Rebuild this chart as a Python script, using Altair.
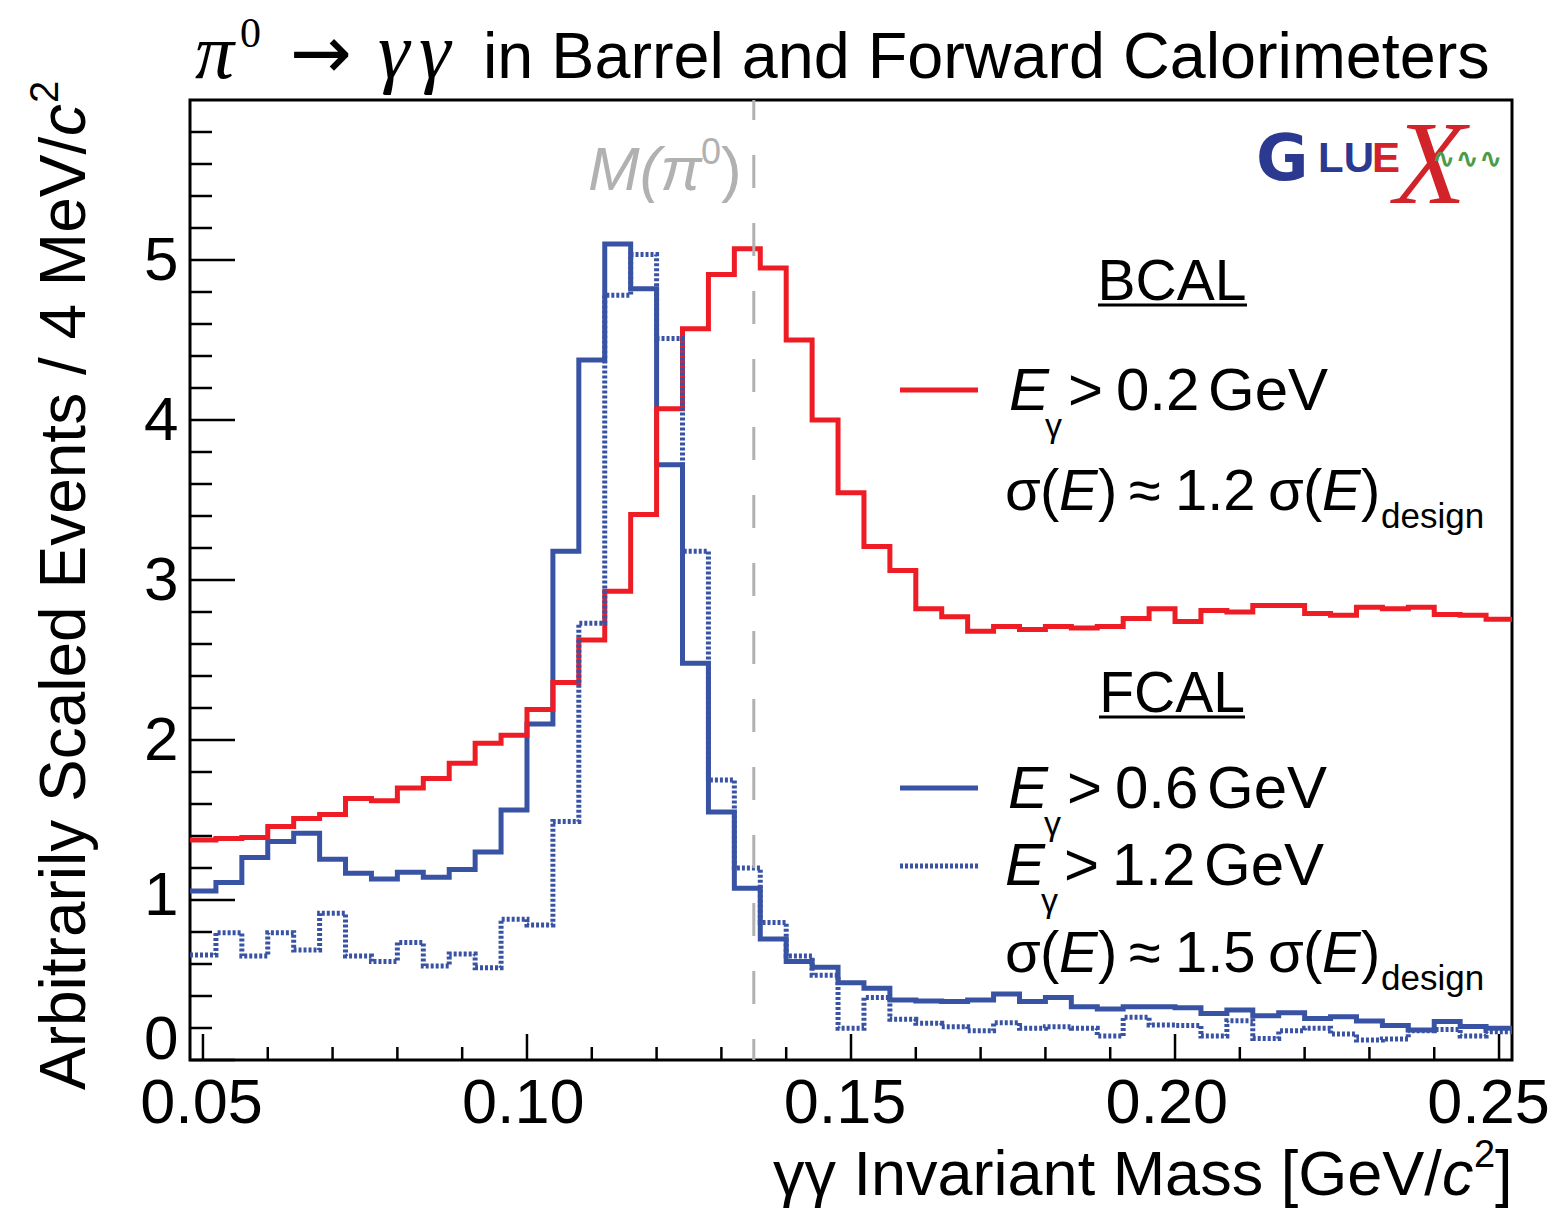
import altair as alt
import pandas as pd

# ---------------- data ----------------
BIN_LOW = 0.048      # GeV/c^2, first bin's lower edge
BIN_WIDTH = 0.004    # 4 MeV bins
X_MAX = 0.252

BCAL_02 = [1.375, 1.385, 1.39, 1.46, 1.51, 1.535, 1.635, 1.62, 1.70, 1.76,
           1.855, 1.98, 2.03, 2.19, 2.36, 2.625, 2.93, 3.41, 4.07, 4.57,
           4.91, 5.07, 4.95, 4.50, 4.00, 3.545, 3.21, 3.06, 2.82, 2.77,
           2.68, 2.71, 2.69, 2.71, 2.70, 2.71, 2.76, 2.82, 2.74, 2.81,
           2.80, 2.84, 2.84, 2.79, 2.78, 2.83, 2.82, 2.83, 2.785, 2.78, 2.755]

FCAL_06 = [1.056, 1.11, 1.265, 1.365, 1.417, 1.254, 1.167, 1.131, 1.173, 1.142,
           1.19, 1.30, 1.5625, 2.10, 3.18, 4.375, 5.10, 4.82, 3.72, 2.48,
           1.55, 1.073, 0.756, 0.615, 0.58, 0.483, 0.448, 0.375, 0.369, 0.365,
           0.375, 0.4125, 0.365, 0.39, 0.333, 0.319, 0.333, 0.333, 0.327, 0.29,
           0.3125, 0.277, 0.296, 0.26, 0.27, 0.244, 0.215, 0.1875, 0.24, 0.21, 0.198]

FCAL_12 = [0.656, 0.796, 0.65, 0.796, 0.6875, 0.917, 0.65, 0.615, 0.735, 0.5875,
           0.6625, 0.577, 0.879, 0.844, 1.49, 2.73, 4.78, 5.035, 4.51, 3.18,
           1.75, 1.20, 0.86, 0.65, 0.53, 0.198, 0.39, 0.254, 0.229, 0.208,
           0.183, 0.233, 0.198, 0.208, 0.198, 0.15, 0.267, 0.219, 0.215, 0.15,
           0.246, 0.135, 0.183, 0.198, 0.1625, 0.125, 0.131, 0.183, 0.19, 0.15, 0.177]

PI0_MASS = 0.135

X_MAJOR = [0.05, 0.10, 0.15, 0.20, 0.25]
X_MINOR = [0.06, 0.07, 0.08, 0.09, 0.11, 0.12, 0.13, 0.14,
           0.16, 0.17, 0.18, 0.19, 0.21, 0.22, 0.23, 0.24]
Y_MAJOR = [0, 1, 2, 3, 4, 5]
Y_MINOR = [0.2, 0.4, 0.6, 0.8, 1.2, 1.4, 1.6, 1.8, 2.2, 2.4, 2.6, 2.8,
           3.2, 3.4, 3.6, 3.8, 4.2, 4.4, 4.6, 4.8, 5.2, 5.4, 5.6, 5.8]

# ---------------- styling ----------------
RED = "#ee1c25"
BLUE = "#3953a4"
GRAY = "#b1b1b1"
SANS = "Liberation Sans"
SERIF = "Liberation Serif"

W, H = 1322, 960
X0, Y0 = 190, 100   # plot origin on the page


def hist_frame(values):
    edges = [BIN_LOW + BIN_WIDTH * i for i in range(len(values))] + [X_MAX]
    return pd.DataFrame({"m": edges, "v": list(values) + [values[-1]]})


xscale = alt.Scale(domain=[BIN_LOW, X_MAX], nice=False, zero=False)
yscale = alt.Scale(domain=[0, 6], nice=False, zero=True)
xaxis = alt.Axis(values=X_MAJOR, format=".2f", ticks=False, tickSize=0, domain=False,
                 grid=False, title=None, labelFont=SANS, labelFontSize=63,
                 labelPadding=12, labelColor="black", labelFlush=False,
                 labelOffset={"expr": "-2 - (datum.value - 0.05) * 45"})
yaxis = alt.Axis(values=Y_MAJOR, format="d", ticks=False, tickSize=0, domain=False,
                 grid=False, title=None, labelFont=SANS, labelFontSize=62,
                 labelPadding=12, labelColor="black", labelBaseline="middle",
                 labelOffset={"expr": "datum.value == 0 ? -21 : (datum.value == 1 ? -5 : 0)"})

X_ENC = alt.X("m:Q", scale=xscale, axis=xaxis)
Y_ENC = alt.Y("v:Q", scale=yscale, axis=yaxis)


def hist(values, color, dash=None, width=5):
    kw = dict(interpolate="step-after", color=color, strokeWidth=width,
              strokeJoin="miter", strokeCap="butt")
    if dash:
        kw["strokeDash"] = dash
    return alt.Chart(hist_frame(values)).mark_line(**kw).encode(x=X_ENC, y=Y_ENC)


anchor = pd.DataFrame({"k": [0]})


def txt(s, x, y, size=62, style="normal", color="black", font=SANS,
        align="left", baseline="alphabetic", angle=0, weight="normal"):
    return alt.Chart(anchor).mark_text(
        text=s, font=font, fontSize=size, fontStyle=style, fontWeight=weight,
        color=color, align=align, baseline=baseline, angle=angle
    ).encode(x=alt.value(x - X0), y=alt.value(y - Y0))


def seg(x1, x2, y, color, width, dash=None):
    kw = dict(color=color, strokeWidth=width, strokeCap="butt")
    if dash:
        kw["strokeDash"] = dash
    return alt.Chart(anchor).mark_rule(**kw).encode(
        x=alt.value(x1 - X0), x2=alt.value(x2 - X0), y=alt.value(y - Y0))


# ticks (ROOT style: inside the frame)
xmaj = alt.Chart(pd.DataFrame({"m": X_MAJOR})).mark_rule(color="black", strokeWidth=2.5).encode(
    x=X_ENC, y=alt.value(H), y2=alt.value(H - 26))
xmin = alt.Chart(pd.DataFrame({"m": X_MINOR})).mark_rule(color="black", strokeWidth=2.5).encode(
    x=X_ENC, y=alt.value(H), y2=alt.value(H - 13))
ymaj = alt.Chart(pd.DataFrame({"v": Y_MAJOR})).mark_rule(color="black", strokeWidth=2.5).encode(
    y=Y_ENC, x=alt.value(0), x2=alt.value(45))
ymin = alt.Chart(pd.DataFrame({"v": Y_MINOR})).mark_rule(color="black", strokeWidth=2.5).encode(
    y=Y_ENC, x=alt.value(0), x2=alt.value(22))

mass_line = alt.Chart(pd.DataFrame({"m": [PI0_MASS]})).mark_rule(
    color=GRAY, strokeWidth=3, strokeDash=[33, 35], strokeDashOffset=13
).encode(x=X_ENC, y=alt.value(0), y2=alt.value(H))

layers = [
    xmaj, xmin, ymaj, ymin,
    hist(FCAL_06, BLUE),
    hist(BCAL_02, RED),
    hist(FCAL_12, BLUE, dash=[3, 2], width=5),
    mass_line,
]

# title
layers += [
    txt("π", 195, 78, size=78, style="italic", font=SERIF),
    txt("0", 240, 47, size=42, font=SERIF),
    txt("→", 290, 78, size=74, font="DejaVu Sans"),
    txt("γ", 378, 78, size=80, style="italic", font=SERIF),
    txt("γ", 419, 78, size=80, style="italic", font=SERIF),
    txt("in Barrel and Forward Calorimeters", 483, 78, size=64.7),
]

# y-axis title (rotated)
layers += [
    txt("Arbitrarily Scaled Events / 4 MeV/", 85, 1090, size=64, angle=270),
    txt("c", 85, 136, size=64, style="italic", angle=270),
    txt("2", 58, 103, size=40, angle=270),
]

# x-axis title
layers += [
    txt("γγ Invariant Mass [GeV/", 773, 1195, size=63),
    txt("c", 1442, 1195, size=63, style="italic"),
    txt("2", 1474, 1167, size=38),
    txt("]", 1495, 1195, size=63),
]

# M(pi0) label
layers += [
    txt("M(π", 588, 190, size=62, style="italic", color=GRAY),
    txt("0", 701, 164, size=36, color=GRAY),
    txt(")", 721, 190, size=62, color=GRAY),
]

# GlueX logo
layers += [
    txt("X", 1394, 203, size=118, style="italic", color="#d2232a", font=SERIF),
    txt("G", 1256, 180, size=64, weight="bold", color="#2b3990", font="DejaVu Sans"),
    txt("LU", 1318, 172, size=42, weight="bold", color="#2b3990"),
    txt("E", 1372, 172, size=42, weight="bold", color="#d2232a"),
    txt("∿∿∿", 1432, 168, size=28, weight="bold", color="#4b9b48", font="DejaVu Sans"),
]


def sigma_line(y, factor):
    s, sub = 58, 35
    return [
        txt("σ", 1005, y, size=s),
        txt("(", 1040, y, size=s),
        txt("E", 1059, y, size=s, style="italic"),
        txt(")", 1098, y, size=s),
        txt("≈", 1129, y, size=s),
        txt(factor, 1175, y, size=s),
        txt("σ", 1268, y, size=s),
        txt("(", 1303, y, size=s),
        txt("E", 1322, y, size=s, style="italic"),
        txt(")", 1361, y, size=s),
        txt("design", 1381, y + 18, size=sub),
    ]


def egamma_line(x, y, thr):
    return [
        txt("E", x, y, size=60, style="italic"),
        txt("γ", x + 36, y + 27, size=34),
        txt(">", x + 59, y, size=60),
        txt(thr, x + 107, y, size=60),
        txt("GeV", x + 199, y, size=60),
    ]


# BCAL legend
layers += [
    txt("BCAL", 1172, 300, size=57, align="center"),
    seg(1098, 1247, 305, "black", 3),
    seg(900, 978, 390, RED, 5),
]
layers += egamma_line(1009, 410, "0.2")
layers += sigma_line(510, "1.2")

# FCAL legend
layers += [
    txt("FCAL", 1172, 712, size=57, align="center"),
    seg(1099, 1245, 717, "black", 3),
    seg(900, 978, 788, BLUE, 5),
    seg(900, 978, 866, BLUE, 5, dash=[3, 2]),
]
layers += egamma_line(1008, 808, "0.6")
layers += egamma_line(1005, 885, "1.2")
layers += sigma_line(972, "1.5")

chart = alt.layer(*layers).properties(
    width=W, height=H,
    autosize=alt.AutoSizeParams(type="none"),
    padding={"left": X0, "top": Y0, "right": 1554 - X0 - W, "bottom": 1211 - Y0 - H},
    background="white",
).configure_view(stroke="black", strokeWidth=3)

chart.save("out.html", embed_options={"renderer": "svg", "actions": False})
